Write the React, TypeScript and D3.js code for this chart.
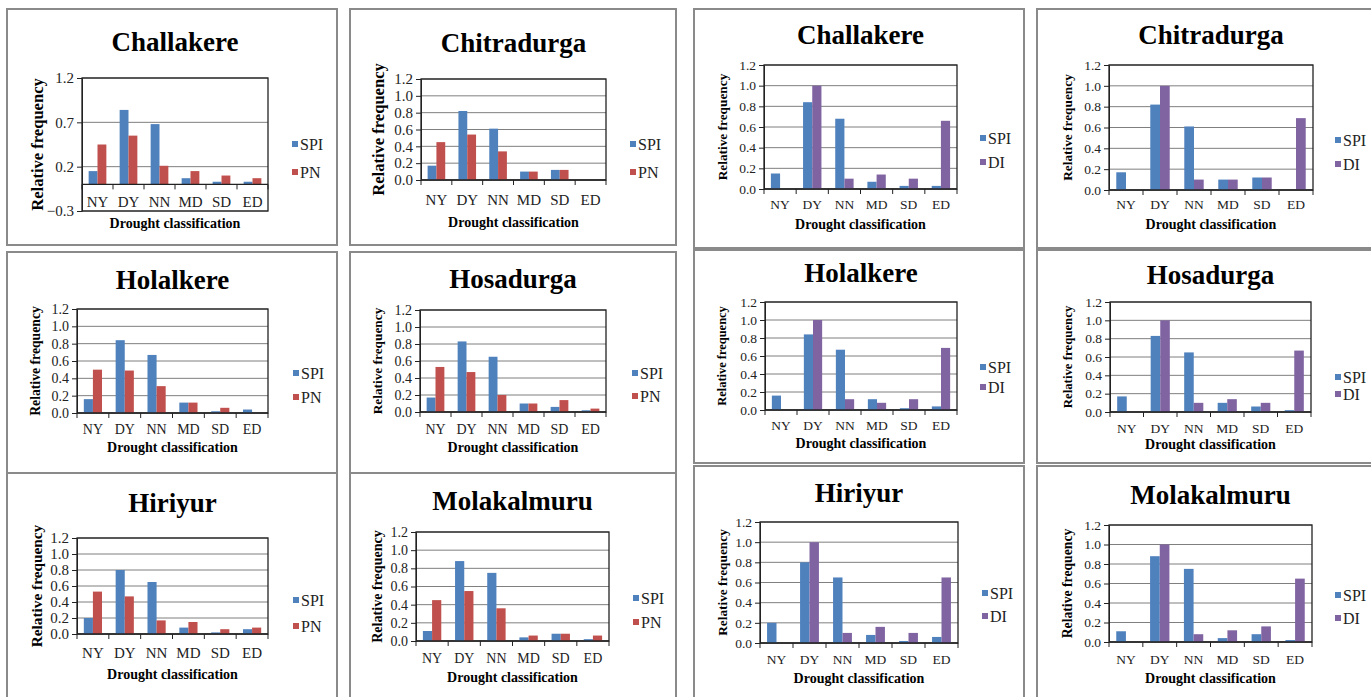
import { useEffect, useRef } from "react";
import * as d3 from "d3";

const categories = ["NY", "DY", "NN", "MD", "SD", "ED"];
const seriesColors: Record<string, string> = { SPI: "#4F81BD", PN: "#C0504D", DI: "#8064A2" };

// relative frequency per drought class
const challakereSPI = [0.15, 0.84, 0.68, 0.07, 0.03, 0.03];
const challakerePN = [0.45, 0.55, 0.21, 0.15, 0.1, 0.07];
const challakereDI = [0, 1.0, 0.1, 0.14, 0.1, 0.66];

const chitradurgaSPI = [0.17, 0.82, 0.61, 0.1, 0.12, 0];
const chitradurgaPN = [0.45, 0.54, 0.34, 0.1, 0.12, 0];
const chitradurgaDI = [0, 1.0, 0.1, 0.1, 0.12, 0.69];

const holalkereSPI = [0.16, 0.84, 0.67, 0.12, 0.02, 0.04];
const holalkerePN = [0.5, 0.49, 0.31, 0.12, 0.06, 0];
const holalkereDI = [0, 1.0, 0.12, 0.08, 0.12, 0.69];

const hosadurgaSPI = [0.17, 0.83, 0.65, 0.1, 0.06, 0.02];
const hosadurgaPN = [0.53, 0.47, 0.2, 0.1, 0.14, 0.04];
const hosadurgaDI = [0, 1.0, 0.1, 0.14, 0.1, 0.67];

const hiriyurSPI = [0.2, 0.8, 0.65, 0.08, 0.02, 0.06];
const hiriyurPN = [0.53, 0.47, 0.17, 0.15, 0.06, 0.08];
const hiriyurDI = [0, 1.0, 0.1, 0.16, 0.1, 0.65];

const molakalmuruSPI = [0.11, 0.88, 0.75, 0.04, 0.08, 0.02];
const molakalmuruPN = [0.45, 0.55, 0.36, 0.06, 0.08, 0.06];
const molakalmuruDI = [0, 1.0, 0.08, 0.12, 0.16, 0.65];

const ticksDefault = [0, 0.2, 0.4, 0.6, 0.8, 1.0, 1.2];
const ticksChallakerePN = [-0.3, 0.2, 0.7, 1.2];

// panel layout (pixel boxes), kept apart from the data
const panels = [
  { title: "Challakere", other: "PN", spi: challakereSPI, vals: challakerePN, ticks: ticksChallakerePN,
    box: [7, 9, 337, 245], plot: [82, 268, 78, 211], titleY: 42, leg: [292, 144, 172], catY: 202, xtY: 223, ylX: 37, ylLen: 133, fs: 15 },
  { title: "Chitradurga", other: "PN", spi: chitradurgaSPI, vals: chitradurgaPN, ticks: ticksDefault,
    box: [350, 9, 676, 245], plot: [421, 606, 79, 180], titleY: 43, leg: [630, 144, 172], catY: 200, xtY: 222, ylX: 378, ylLen: 133, fs: 15 },
  { title: "Challakere", other: "DI", spi: challakereSPI, vals: challakereDI, ticks: ticksDefault,
    box: [694, 9, 1024, 248], plot: [764, 957, 65, 189], titleY: 35, leg: [980, 138, 162], catY: 204, xtY: 224, ylX: 722, ylLen: 107, fs: 13.5 },
  { title: "Chitradurga", other: "DI", spi: chitradurgaSPI, vals: chitradurgaDI, ticks: ticksDefault,
    box: [1037, 9, 1380, 248], plot: [1109, 1313, 65, 190], titleY: 35, leg: [1335, 140, 164], catY: 204, xtY: 224, ylX: 1067, ylLen: 107, fs: 13.5 },
  { title: "Holalkere", other: "PN", spi: holalkereSPI, vals: holalkerePN, ticks: ticksDefault,
    box: [7, 252, 337, 473], plot: [77, 268, 309, 413], titleY: 280, leg: [293, 373, 397], catY: 429, xtY: 447, ylX: 35, ylLen: 110, fs: 14 },
  { title: "Hosadurga", other: "PN", spi: hosadurgaSPI, vals: hosadurgaPN, ticks: ticksDefault,
    box: [350, 252, 676, 473], plot: [420, 606, 310, 412], titleY: 279, leg: [632, 373, 396], catY: 429, xtY: 447, ylX: 377, ylLen: 107, fs: 14 },
  { title: "Holalkere", other: "DI", spi: holalkereSPI, vals: holalkereDI, ticks: ticksDefault,
    box: [694, 250, 1024, 463], plot: [765, 957, 302, 410], titleY: 273, leg: [980, 367, 387], catY: 425, xtY: 443, ylX: 722, ylLen: 100, fs: 13.5 },
  { title: "Hosadurga", other: "DI", spi: hosadurgaSPI, vals: hosadurgaDI, ticks: ticksDefault,
    box: [1037, 250, 1380, 463], plot: [1110, 1311, 302, 412], titleY: 275, leg: [1335, 377, 394], catY: 428, xtY: 444, ylX: 1067, ylLen: 103, fs: 13.5 },
  { title: "Hiriyur", other: "PN", spi: hiriyurSPI, vals: hiriyurPN, ticks: ticksDefault,
    box: [7, 473, 337, 710], plot: [77, 268, 538, 634], titleY: 503, leg: [293, 600, 626], catY: 653, xtY: 674, ylX: 37, ylLen: 123, fs: 15 },
  { title: "Molakalmuru", other: "PN", spi: molakalmuruSPI, vals: molakalmuruPN, ticks: ticksDefault,
    box: [350, 473, 676, 710], plot: [416, 609, 532, 641], titleY: 501, leg: [633, 598, 622], catY: 658, xtY: 677, ylX: 377, ylLen: 113, fs: 14 },
  { title: "Hiriyur", other: "DI", spi: hiriyurSPI, vals: hiriyurDI, ticks: ticksDefault,
    box: [694, 466, 1024, 710], plot: [760, 958, 522, 643], titleY: 493, leg: [982, 593, 616], catY: 659, xtY: 678, ylX: 722, ylLen: 107, fs: 13.5 },
  { title: "Molakalmuru", other: "DI", spi: molakalmuruSPI, vals: molakalmuruDI, ticks: ticksDefault,
    box: [1037, 466, 1380, 710], plot: [1109, 1312, 525, 642], titleY: 495, leg: [1335, 595, 618], catY: 659, xtY: 678, ylX: 1067, ylLen: 110, fs: 13.5 },
];

const FONT = "Liberation Serif, DejaVu Serif, serif";

export default function App() {
  const ref = useRef<SVGSVGElement>(null);

  useEffect(() => {
    const svg = d3.select(ref.current);
    svg.selectAll("*").remove();

    svg.append("rect").attr("width", 1371).attr("height", 697).attr("fill", "#fff");

    panels.forEach((p) => {
      const g = svg.append("g");
      const [bx0, by0, bx1, by1] = p.box;
      const [x0, x1, y0, y1] = p.plot;

      g.append("rect")
        .attr("x", bx0).attr("y", by0)
        .attr("width", bx1 - bx0).attr("height", by1 - by0)
        .attr("fill", "#fff").attr("stroke", "#8a8a8a").attr("stroke-width", 2);

      const x = d3.scaleBand().domain(categories).range([x0, x1]);
      const y = d3
        .scaleLinear()
        .domain([p.ticks[0], p.ticks[p.ticks.length - 1]])
        .range([y1, y0]);

      // gridlines
      g.selectAll(".grid")
        .data(p.ticks.filter((t) => t !== 0))
        .enter()
        .append("line")
        .attr("x1", x0).attr("x2", x1)
        .attr("y1", (d) => y(d)).attr("y2", (d) => y(d))
        .attr("stroke", "#7f7f7f").attr("stroke-width", 1);

      // plot area border
      g.append("rect")
        .attr("x", x0).attr("y", y0)
        .attr("width", x1 - x0).attr("height", y1 - y0)
        .attr("fill", "none").attr("stroke", "#222").attr("stroke-width", 1.3);

      // bars
      const bw = x.bandwidth();
      const barW = bw / 3.5;
      const series = [
        { key: "SPI", vals: p.spi, off: (bw * 0.75) / 3.5 },
        { key: p.other, vals: p.vals, off: (bw * 0.75) / 3.5 + barW },
      ];
      series.forEach((s) => {
        g.selectAll(".bar-" + s.key)
          .data(s.vals)
          .enter()
          .append("rect")
          .attr("x", (_d, i) => (x(categories[i]) as number) + s.off)
          .attr("y", (d) => y(Math.max(0, d)))
          .attr("width", barW)
          .attr("height", (d) => Math.abs(y(d) - y(0)))
          .attr("fill", seriesColors[s.key]);
      });

      // y axis
      const yAxis = g
        .append("g")
        .attr("transform", `translate(${x0},0)`)
        .call(d3.axisLeft(y).tickValues(p.ticks).tickFormat(d3.format(".1f")).tickSize(5).tickSizeOuter(0));
      yAxis.select(".domain").attr("stroke", "#222");
      yAxis.selectAll(".tick line").attr("stroke", "#222");
      yAxis.selectAll(".tick text")
        .style("font-family", FONT).attr("font-size", p.fs).attr("fill", "#222").attr("x", -8);

      // category axis at zero
      const zy = y(0);
      g.append("line")
        .attr("x1", x0).attr("x2", x1).attr("y1", zy).attr("y2", zy)
        .attr("stroke", "#222").attr("stroke-width", 1.3);
      const bounds = categories.map((c) => x(c) as number).concat([x1]);
      g.selectAll(".xtick")
        .data(bounds)
        .enter()
        .append("line")
        .attr("x1", (d) => d).attr("x2", (d) => d)
        .attr("y1", zy).attr("y2", zy + 5)
        .attr("stroke", "#222");
      g.selectAll(".xlab")
        .data(categories)
        .enter()
        .append("text")
        .attr("x", (d) => (x(d) as number) + bw / 2)
        .attr("y", p.catY)
        .attr("dy", "0.35em")
        .attr("text-anchor", "middle")
        .style("font-family", FONT)
        .attr("font-size", p.fs)
        .attr("fill", "#222")
        .text((d) => d);

      // titles
      const cx = (x0 + x1) / 2;
      g.append("text")
        .attr("x", cx).attr("y", p.titleY).attr("dy", "0.35em")
        .attr("text-anchor", "middle")
        .style("font-family", FONT)
        .attr("font-size", 27).attr("font-weight", "bold")
        .text(p.title);
      g.append("text")
        .attr("x", cx).attr("y", p.xtY).attr("dy", "0.35em")
        .attr("text-anchor", "middle")
        .style("font-family", FONT)
        .attr("font-size", 14).attr("font-weight", "bold")
        .text("Drought classification");
      const cy = (y0 + y1) / 2;
      g.append("text")
        .attr("transform", `translate(${p.ylX},${cy}) rotate(-90)`)
        .attr("dy", "0.35em")
        .attr("text-anchor", "middle")
        .style("font-family", FONT)
        .attr("font-size", p.ylLen / 8.03).attr("font-weight", "bold")
        .text("Relative frequency");

      // legend
      const [lx, ly1, ly2] = p.leg;
      [["SPI", ly1], [p.other, ly2]].forEach(([k, ly]) => {
        g.append("rect")
          .attr("x", lx).attr("y", (ly as number) - 3)
          .attr("width", 6).attr("height", 6)
          .attr("fill", seriesColors[k as string]);
        g.append("text")
          .attr("x", lx + 8).attr("y", ly as number).attr("dy", "0.35em")
          .style("font-family", FONT)
          .attr("font-size", 16).attr("fill", "#222")
          .text(k as string);
      });
    });
  }, []);

  return (
    <svg
      ref={ref}
      width={1371}
      height={697}
      style={{ position: "absolute", left: 0, top: 0 }}
    ></svg>
  );
}
